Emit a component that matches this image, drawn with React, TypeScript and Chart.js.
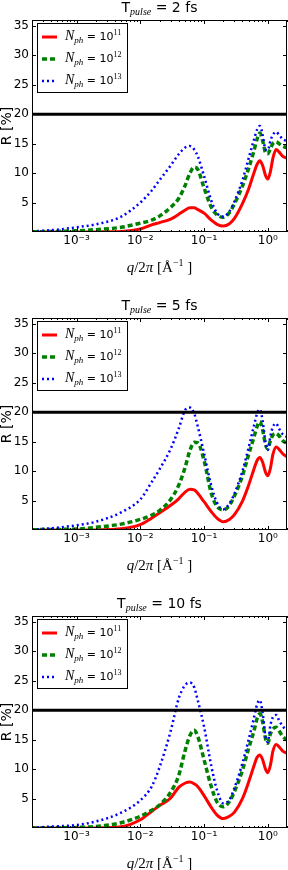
import React, { useEffect, useRef } from "react";
import { Chart, registerables } from "chart.js";
Chart.register(...registerables);

// ---------- data ----------
const qValues = [2e-4, 5e-4, 1e-3, 2e-3, 5e-3, 0.01, 0.015, 0.02, 0.03, 0.04, 0.05, 0.06, 0.07, 0.08, 0.1, 0.13, 0.16, 0.2, 0.25, 0.3, 0.4, 0.5, 0.6, 0.68, 0.75, 0.83, 0.92, 1.0, 1.1, 1.2, 1.35, 1.5, 1.7, 2.0];

const n11_2fs = [0, 0, 0, 0.02, 0.1, 0.5, 1.2, 1.6, 2.2, 3.0, 3.7, 4.1, 4.1, 3.8, 3.2, 2.0, 1.3, 1.0, 1.4, 2.3, 4.8, 7.3, 9.9, 11.5, 12.1, 11.3, 9.6, 9.0, 10.3, 12.5, 14.0, 13.6, 12.9, 12.5];
const n12_2fs = [0.05, 0.1, 0.2, 0.4, 0.8, 1.5, 2.0, 2.7, 4.2, 5.7, 7.8, 10.0, 11.0, 10.6, 7.5, 4.2, 2.9, 2.5, 3.3, 4.8, 7.8, 10.8, 13.6, 15.8, 16.8, 15.5, 13.5, 13.3, 14.2, 15.0, 15.3, 15.0, 14.6, 14.3];
const n13_2fs = [0.1, 0.4, 0.8, 1.3, 2.6, 5.0, 7.0, 8.8, 11.3, 13.2, 14.3, 14.6, 14.0, 12.8, 9.5, 5.3, 3.2, 2.6, 3.5, 5.2, 8.8, 12.5, 15.5, 17.4, 18.0, 16.5, 14.0, 13.9, 15.5, 16.5, 17.0, 16.5, 15.8, 15.4];

const n11_5fs = [0, 0, 0, 0.02, 0.2, 0.9, 2.0, 2.9, 4.2, 5.3, 6.4, 6.9, 6.8, 6.2, 4.8, 3.1, 2.0, 1.4, 1.8, 2.6, 4.9, 7.6, 10.2, 11.8, 12.3, 11.5, 9.8, 9.2, 10.5, 12.8, 14.1, 13.7, 13.0, 12.4];
const n12_5fs = [0.05, 0.1, 0.15, 0.45, 1.0, 1.8, 2.5, 3.3, 5.2, 7.6, 10.5, 13.5, 14.9, 14.8, 11.8, 6.2, 4.0, 3.4, 4.2, 5.8, 9.2, 12.8, 15.6, 17.6, 18.4, 17.0, 14.5, 13.8, 15.2, 16.1, 16.4, 16.0, 15.2, 14.7];
const n13_5fs = [0.05, 0.4, 0.8, 1.4, 3.0, 5.2, 8.1, 10.3, 13.8, 17.2, 20.3, 20.8, 19.8, 17.5, 13.0, 7.5, 4.6, 3.5, 4.5, 6.2, 10.0, 14.0, 17.5, 19.8, 20.5, 18.5, 14.8, 13.6, 16.0, 17.5, 18.1, 17.2, 16.3, 15.8];

const n11_10fs = [0, 0, 0, 0.02, 0.2, 1.4, 2.8, 3.8, 5.1, 6.9, 7.6, 7.8, 7.5, 7.0, 5.5, 3.5, 2.2, 1.6, 2.0, 2.7, 5.0, 7.8, 10.4, 12.0, 12.4, 11.6, 10.0, 9.4, 10.7, 13.0, 14.2, 13.8, 13.1, 12.7];
const n12_10fs = [0, 0.05, 0.1, 0.25, 0.9, 2.0, 3.0, 3.9, 6.1, 8.9, 13.0, 15.7, 16.6, 15.5, 11.6, 7.0, 4.4, 3.6, 4.5, 6.2, 9.8, 13.5, 16.3, 18.6, 19.4, 18.0, 15.2, 14.4, 16.0, 16.8, 17.1, 16.5, 15.6, 14.9];
const n13_10fs = [0.05, 0.3, 0.5, 1.1, 2.6, 4.7, 7.0, 10.3, 16.5, 22.0, 24.2, 24.7, 23.9, 21.6, 17.2, 10.5, 6.4, 4.2, 4.8, 6.8, 11.0, 15.0, 18.5, 21.0, 21.7, 19.5, 15.5, 14.6, 17.5, 18.8, 19.2, 18.3, 17.3, 16.6];

const pulseDurations = ["2", "5", "10"];
const photonExponents = ["11", "12", "13"];
const thresholdR = 20;
const Q_MIN = 2e-4;
const Q_MAX = 2;
const R_MIN = 0;
const R_MAX = 36;
const yTickValues = [5, 10, 15, 20, 25, 30, 35];
const xMajorTicks = [1e-3, 1e-2, 1e-1, 1];
const xTickLabels = ["10⁻³", "10⁻²", "10⁻¹", "10⁰"];

// ---------- styling ----------
const seriesStyles = [
  { color: "#ff0000", width: 3, dash: [] as number[], order: 3 },
  { color: "#008000", width: 3.5, dash: [5, 3], order: 2 },
  { color: "#0000ff", width: 2.5, dash: [2, 3], order: 1 },
];

const PANEL_H = 274;
const AREA_TOP = 20;
const AREA_BOTTOM = 232;
const AREA_LEFT = 32;
const AREA_RIGHT = 287;

const frameTicks = {
  id: "frameTicks",
  afterDatasetsDraw(chart: any) {
    const { ctx, chartArea, scales } = chart;
    const { left, right, top, bottom } = chartArea;
    const x = scales.x;
    const y = scales.y;
    ctx.save();
    ctx.strokeStyle = "#000";
    ctx.lineWidth = 1;
    ctx.beginPath();
    for (let d = -4; d <= 0; d++) {
      for (let k = 1; k <= 9; k++) {
        const v = k * Math.pow(10, d);
        if (v < Q_MIN * 0.999 || v > Q_MAX * 1.001) continue;
        const px = Math.round(x.getPixelForValue(v)) + 0.5;
        const len = k === 1 ? 4 : 2;
        ctx.moveTo(px, bottom);
        ctx.lineTo(px, bottom - len);
        ctx.moveTo(px, top);
        ctx.lineTo(px, top + len);
      }
    }
    for (const v of yTickValues) {
      const py = Math.round(y.getPixelForValue(v)) + 0.5;
      ctx.moveTo(left, py);
      ctx.lineTo(left + 4, py);
      ctx.moveTo(right, py);
      ctx.lineTo(right - 4, py);
    }
    ctx.stroke();
    ctx.strokeRect(left + 0.5, top + 0.5, right - left - 1, bottom - top - 1);
    ctx.restore();
  },
};

function buildConfig(series: number[][]): any {
  const datasets: any[] = series.map((vals, i) => ({
    label: "N_ph = 10^" + photonExponents[i],
    data: qValues.map((q, j) => ({ x: q, y: vals[j] })),
    borderColor: seriesStyles[i].color,
    borderWidth: seriesStyles[i].width,
    borderDash: seriesStyles[i].dash,
    borderCapStyle: "butt",
    fill: false,
    pointRadius: 0,
    cubicInterpolationMode: "monotone",
    order: seriesStyles[i].order,
  }));
  datasets.push({
    label: "threshold",
    data: [
      { x: Q_MIN, y: thresholdR },
      { x: Q_MAX, y: thresholdR },
    ],
    borderColor: "#000",
    borderWidth: 3,
    pointRadius: 0,
    fill: false,
    order: 0,
  });
  const tickFont = { family: "'DejaVu Sans', sans-serif", size: 12 };
  return {
    type: "line",
    data: { datasets },
    options: {
      animation: false,
      responsive: false,
      maintainAspectRatio: false,
      devicePixelRatio: 1,
      layout: { padding: { left: 0, right: 288 - AREA_RIGHT, top: AREA_TOP, bottom: 0 } },
      plugins: {
        legend: { display: false },
        tooltip: { enabled: false },
        title: { display: false },
      },
      elements: { point: { radius: 0 } },
      scales: {
        x: {
          type: "logarithmic",
          min: Q_MIN,
          max: Q_MAX,
          grid: { display: false, drawTicks: false },
          border: { display: false },
          afterBuildTicks: (s: any) => {
            s.ticks = xMajorTicks.map((v) => ({ value: v }));
          },
          afterFit: (s: any) => {
            s.height = PANEL_H - AREA_BOTTOM;
          },
          ticks: {
            autoSkip: false,
            maxRotation: 0,
            minRotation: 0,
            padding: 2,
            color: "#000",
            font: tickFont,
            callback: (_v: any, i: number) => xTickLabels[i],
          },
        },
        y: {
          type: "linear",
          min: R_MIN,
          max: R_MAX,
          grid: { display: false, drawTicks: false },
          border: { display: false },
          afterBuildTicks: (s: any) => {
            s.ticks = yTickValues.map((v) => ({ value: v }));
          },
          afterFit: (s: any) => {
            s.width = AREA_LEFT;
          },
          ticks: {
            padding: 3,
            color: "#000",
            font: tickFont,
            callback: (v: any) => String(v),
          },
        },
      },
    },
    plugins: [frameTicks],
  };
}

const serif = "'Liberation Serif', 'DejaVu Serif', serif";
const sans = "'DejaVu Sans', sans-serif";

function LegendBox() {
  return (
    <div
      style={{
        position: "absolute",
        left: 37,
        top: 23,
        width: 91,
        height: 70,
        border: "1px solid #000",
        boxSizing: "border-box",
        background: "#fff",
      }}
    >
      {photonExponents.map((exp, i) => (
        <div
          key={exp}
          style={{
            position: "absolute",
            left: 0,
            top: 4 + i * 22,
            height: 18,
            display: "flex",
            alignItems: "center",
            whiteSpace: "nowrap",
          }}
        >
          <svg width={27} height={18} style={{ display: "block" }}>
            <line
              x1={4}
              x2={19}
              y1={9}
              y2={9}
              stroke={seriesStyles[i].color}
              strokeWidth={seriesStyles[i].width}
              strokeDasharray={seriesStyles[i].dash.length ? seriesStyles[i].dash.join(",") : undefined}
            />
          </svg>
          <span style={{ fontFamily: sans, fontSize: 11, lineHeight: "18px", color: "#000" }}>
            <i style={{ fontFamily: serif, fontSize: 14 }}>N</i>
            <span style={{ fontFamily: serif, fontStyle: "italic", fontSize: 9, position: "relative", top: 3 }}>ph</span>
            {" = 10"}
            <span style={{ fontFamily: serif, fontSize: 8, position: "relative", top: -5 }}>{exp}</span>
          </span>
        </div>
      ))}
    </div>
  );
}

function Panel({ top, pulse, series }: { top: number; pulse: string; series: number[][] }) {
  const ref = useRef<HTMLCanvasElement>(null);
  useEffect(() => {
    const chart = new Chart(ref.current as HTMLCanvasElement, buildConfig(series));
    return () => chart.destroy();
  }, []);
  const centerX = (AREA_LEFT + AREA_RIGHT) / 2;
  return (
    <div style={{ position: "absolute", left: 0, top, width: 288, height: PANEL_H }}>
      <canvas
        ref={ref}
        width={288}
        height={PANEL_H}
        style={{ position: "absolute", left: 0, top: 0, width: 288, height: PANEL_H }}
      />
      <div
        style={{
          position: "absolute",
          left: centerX,
          top: -1,
          transform: "translateX(-50%)",
          fontFamily: sans,
          fontSize: 14,
          lineHeight: "16px",
          whiteSpace: "nowrap",
          color: "#000",
        }}
      >
        T
        <span style={{ fontFamily: serif, fontStyle: "italic", fontSize: 10, position: "relative", top: 3 }}>pulse</span>
        {" = " + pulse + " fs"}
      </div>
      <div
        style={{
          position: "absolute",
          left: 6,
          top: (AREA_TOP + AREA_BOTTOM) / 2,
          transform: "translate(-50%, -50%) rotate(-90deg)",
          fontFamily: sans,
          fontSize: 14,
          lineHeight: "14px",
          whiteSpace: "nowrap",
          color: "#000",
        }}
      >
        R [%]
      </div>
      <div
        style={{
          position: "absolute",
          left: centerX,
          top: 259,
          transform: "translateX(-50%)",
          fontFamily: serif,
          fontSize: 15,
          lineHeight: "16px",
          whiteSpace: "nowrap",
          color: "#000",
        }}
      >
        <i>q</i>/2<i>π</i> [Å
        <span style={{ fontSize: 10, position: "relative", top: -6 }}>−1</span>
        {" ]"}
      </div>
      <LegendBox />
    </div>
  );
}

export default function App() {
  const panels = [
    { pulse: pulseDurations[0], series: [n11_2fs, n12_2fs, n13_2fs] },
    { pulse: pulseDurations[1], series: [n11_5fs, n12_5fs, n13_5fs] },
    { pulse: pulseDurations[2], series: [n11_10fs, n12_10fs, n13_10fs] },
  ];
  return (
    <div
      style={{
        position: "absolute",
        left: 0,
        top: 0,
        width: 288,
        height: 870,
        overflow: "hidden",
        background: "#fff",
      }}
    >
      {panels.map((p, i) => (
        <Panel key={i} top={i * 298} pulse={p.pulse} series={p.series} />
      ))}
    </div>
  );
}
